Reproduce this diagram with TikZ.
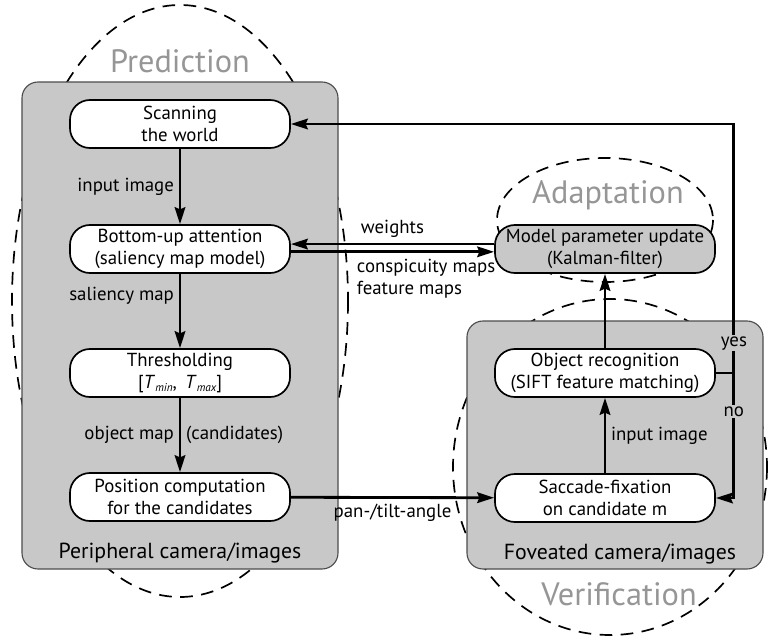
\documentclass[tikz,border=0pt]{standalone}
\usepackage{fontspec}
\setmainfont{PT Sans}
\usetikzlibrary{arrows.meta}

\definecolor{panelgray}{RGB}{200,200,200}
\definecolor{phasegray}{RGB}{150,150,150}

\begin{document}
\begin{tikzpicture}[x=0.025cm, y=-0.025cm,
        box/.style={draw, line width=1.2pt, fill=white, rounded corners=0.5cm,
            minimum width=5.5cm, minimum height=1.2cm, inner sep=0pt,
            align=center, font=\fontsize{13.4}{15.5}\selectfont},
        panel/.style={draw=black!70, line width=0.8pt, fill=panelgray, rounded corners=0.4cm},
        zone/.style={line width=1.2pt, dash pattern=on 9pt off 6pt},
        flow/.style={line width=2pt, -{Stealth[length=12pt, width=7.5pt, inset=1.5pt]}},
        lbl/.style={font=\fontsize{13.4}{15.5}\selectfont},
        caption/.style={font=\fontsize{15.5}{18}\selectfont},
        phase/.style={text=phasegray, font=\fontsize{23}{26}\selectfont}]
        \useasboundingbox (0,0) rectangle (770,638);

        % dashed areas behind the panels
        \draw[zone] (180,301) ellipse [x radius=168, y radius=296];
        \draw[zone] (605,220) ellipse [x radius=108, y radius=62];
        \draw[zone] (610,467) ellipse [x radius=157, y radius=168];
        \node[phase, anchor=base] (predict) at (180,72) {Prediction};
        \node[phase, anchor=base] (adapt) at (608,203) {Adaptation};
        \node[phase, anchor=base] (verify) at (619,605) {Verification};

        % camera panels
        \draw[panel] (22,82) rectangle (338,569);
        \draw[panel] (467,321) rectangle (763,569);
        \node[caption, anchor=base] (periph) at (180,558) {Peripheral camera/images};
        \node[caption, anchor=base] (fovea) at (620,559) {Foveated camera/images};

        % steps
        \node[box] (scan) at (180,124) {Scanning\\the world};
        \node[box] (bottomup) at (180,249) {Bottom-up attention\\(saliency map model)};
        \node[box] (thresh) at (180,373) {Thresholding\\{}[\textit{T}\raisebox{-0.3ex}{\footnotesize\itshape min}, \,\textit{T}\raisebox{-0.3ex}{\footnotesize\itshape max}]};
        \node[box] (position) at (180,497) {Position computation\\for the candidates};
        \node[box, fill=panelgray] (update) at (605,249) {Model parameter update\\(Kalman-filter)};
        \node[box] (recog) at (605,373) {Object recognition\\(SIFT feature matching)};
        \node[box] (saccade) at (605,498) {Saccade-fixation\\on candidate m};

        % connections
        \draw[flow] (scan) -- node[lbl, midway, left] {input image} (bottomup);
        \draw[flow] (bottomup) -- node[lbl, pos=0.3, left] {saliency map} (thresh);
        \draw[flow] (thresh) -- node[lbl, midway, left] {object map}
            node[lbl, midway, right] {(candidates)} (position);
        \draw[flow] (position) -- node[lbl, midway, below] {pan-/tilt-angle} (saccade);
        \draw[flow] (saccade) -- node[lbl, midway, right] {input image} (recog);
        \draw[flow] (recog) -- (update);
        \draw[flow] ([yshift=3.5pt]update.west) -- node[lbl, midway, above] {weights} ([yshift=3.5pt]bottomup.east);
        \draw[flow] ([yshift=-2pt]bottomup.east) -- ([yshift=-2pt]update.west);
        \node[lbl, anchor=west, align=left] (maps) at (352,279) {conspicuity maps\\feature maps};

        \draw[line width=2pt] (recog.east) -- ++(18,0) coordinate (fork);
        \draw[flow] (fork) -- node[lbl, pos=0.12, fill=panelgray, inner sep=1pt] {yes}
            (fork |- scan.east) -- (scan.east);
        \draw[flow] (fork) -- node[lbl, pos=0.31, fill=panelgray, inner sep=1pt] {no}
            (fork |- saccade.east) -- (saccade.east);
    \end{tikzpicture}
\end{document}
